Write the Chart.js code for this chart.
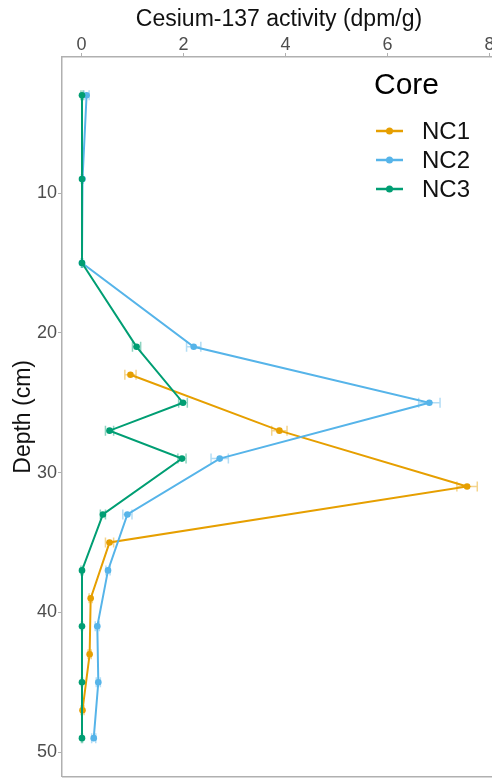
<!DOCTYPE html>
<html lang="en">
<head>
  <meta charset="UTF-8" />
  <title>Cesium-137 activity by depth</title>
  <script src="https://cdn.jsdelivr.net/npm/chart.js"></script>
  <style>
    html, body { margin: 0; padding: 0; background: #fff; overflow: hidden; }
    #wrap { width: 500px; height: 780px; }
  </style>
</head>
<body>
  <div id="wrap"><canvas id="chart" width="500" height="780"></canvas></div>
  <script>
    // depths (cm) and Cs-137 activity (dpm/g) per core
    const coreNames = ['NC1', 'NC2', 'NC3'];
    const coreColors = ['#E69F00', '#56B4E9', '#009E73'];

    const nc1Depth = [23, 27, 31, 35, 39, 43, 47];
    const nc1Value = [0.96, 3.88, 7.56, 0.55, 0.18, 0.16, 0.02];
    const nc1Err   = [0.11, 0.15, 0.20, 0.08, 0.03, 0.03, 0.03];

    const nc2Depth = [3, 9, 15, 21, 25, 29, 33, 37, 41, 45, 49];
    const nc2Value = [0.10, 0.02, 0.01, 2.20, 6.82, 2.71, 0.90, 0.52, 0.31, 0.33, 0.24];
    const nc2Err   = [0.05, 0.01, 0.01, 0.14, 0.21, 0.17, 0.09, 0.04, 0.04, 0.04, 0.04];

    const nc3Depth = [3, 9, 15, 21, 25, 27, 29, 33, 37, 41, 45, 49];
    const nc3Value = [0.01, 0.01, 0.01, 1.08, 1.99, 0.55, 1.97, 0.42, 0.01, 0.01, 0.01, 0.01];
    const nc3Err   = [0.02, 0.01, 0.01, 0.08, 0.085, 0.08, 0.08, 0.05, 0.02, 0.01, 0.01, 0.01];

    const xTicks = [0, 2, 4, 6, 8];
    const yTicks = [10, 20, 30, 40, 50];

    const depths = [nc1Depth, nc2Depth, nc3Depth];
    const values = [nc1Value, nc2Value, nc3Value];
    const errs = [nc1Err, nc2Err, nc3Err];

    const FONT = '"Liberation Sans", Arial, sans-serif';
    const AXIS_GREY = '#b0b0b0';

    function withAlpha(hex, a) {
      const n = parseInt(hex.slice(1), 16);
      return `rgba(${n >> 16}, ${(n >> 8) & 255}, ${n & 255}, ${a})`;
    }

    const datasets = coreNames.map((name, i) => ({
      label: name,
      data: depths[i].map((d, j) => ({ x: values[i][j], y: d })),
      errors: errs[i],
      borderColor: coreColors[i],
      backgroundColor: coreColors[i],
      borderWidth: 2,
      pointRadius: 3.3,
      pointHoverRadius: 3.3,
      pointBorderWidth: 0,
      showLine: true,
      tension: 0,
      order: 2 - i   // NC3 on top
    }));

    // horizontal error bars, drawn under the lines
    const errorBars = {
      id: 'errorBars',
      beforeDatasetsDraw(chart) {
        const { ctx, scales: { x, y } } = chart;
        ctx.save();
        ctx.lineWidth = 1.5;
        chart.data.datasets.forEach(ds => {
          ctx.strokeStyle = withAlpha(ds.borderColor, 0.45);
          ds.data.forEach((p, j) => {
            const e = ds.errors[j];
            const x0 = x.getPixelForValue(p.x - e);
            const x1 = x.getPixelForValue(p.x + e);
            const py = y.getPixelForValue(p.y);
            ctx.beginPath();
            ctx.moveTo(x0, py); ctx.lineTo(x1, py);
            ctx.moveTo(x0, py - 5); ctx.lineTo(x0, py + 5);
            ctx.moveTo(x1, py - 5); ctx.lineTo(x1, py + 5);
            ctx.stroke();
          });
        });
        ctx.restore();
      },
      afterDraw(chart) {
        const { ctx, chartArea } = chart;
        ctx.save();
        // bottom panel border
        ctx.strokeStyle = AXIS_GREY;
        ctx.lineWidth = 1.5;
        ctx.beginPath();
        ctx.moveTo(chartArea.left, chartArea.bottom);
        ctx.lineTo(chartArea.right, chartArea.bottom);
        ctx.stroke();

        // legend
        ctx.fillStyle = '#000';
        ctx.textBaseline = 'middle';
        ctx.textAlign = 'left';
        ctx.font = `30px ${FONT}`;
        ctx.fillText('Core', 374, 86);
        ctx.font = `24px ${FONT}`;
        coreNames.forEach((name, i) => {
          const cy = 131 + i * 29;
          ctx.strokeStyle = coreColors[i];
          ctx.lineWidth = 2.5;
          ctx.beginPath();
          ctx.moveTo(376, cy); ctx.lineTo(403, cy);
          ctx.stroke();
          ctx.fillStyle = coreColors[i];
          ctx.beginPath();
          ctx.arc(389.5, cy, 3.5, 0, Math.PI * 2);
          ctx.fill();
          ctx.fillStyle = '#111';
          ctx.fillText(name, 422, cy + 1);
        });
        ctx.restore();
      }
    };

    new Chart(document.getElementById('chart'), {
      type: 'scatter',
      data: { datasets },
      options: {
        responsive: false,
        animation: false,
        layout: { padding: { top: 0, left: 0, right: 4, bottom: 1 } },
        plugins: { legend: { display: false }, tooltip: { enabled: false } },
        scales: {
          x: {
            type: 'linear',
            position: 'top',
            min: -0.382,
            max: 8.127,
            afterBuildTicks: s => { s.ticks = xTicks.map(v => ({ value: v })); },
            afterFit: s => { s.height = 57; s.paddingLeft = 0; s.paddingRight = 0; },
            grid: { drawOnChartArea: false, drawTicks: true, tickLength: 4, color: AXIS_GREY, lineWidth: 1 },
            border: { display: true, color: AXIS_GREY, width: 1.5 },
            ticks: { color: '#4d4d4d', font: { family: FONT, size: 18 }, padding: -3, maxRotation: 0 },
            title: {
              display: true,
              text: 'Cesium-137 activity (dpm/g)',
              color: '#111',
              font: { family: FONT, size: 23 },
              padding: { top: 6, bottom: 0 }
            }
          },
          y: {
            type: 'linear',
            reverse: true,
            min: 0.264,
            max: 51.76,
            afterBuildTicks: s => { s.ticks = yTicks.map(v => ({ value: v })); },
            afterFit: s => { s.width = 62; s.paddingTop = 0; s.paddingBottom = 0; },
            grid: { drawOnChartArea: false, drawTicks: true, tickLength: 4, color: AXIS_GREY, lineWidth: 1 },
            border: { display: true, color: AXIS_GREY, width: 1.5 },
            ticks: { color: '#4d4d4d', font: { family: FONT, size: 18 }, padding: 1 },
            title: {
              display: true,
              text: 'Depth (cm)',
              color: '#111',
              font: { family: FONT, size: 23 },
              padding: { top: 10, bottom: 0 }
            }
          }
        }
      },
      plugins: [errorBars]
    });
  </script>
</body>
</html>
